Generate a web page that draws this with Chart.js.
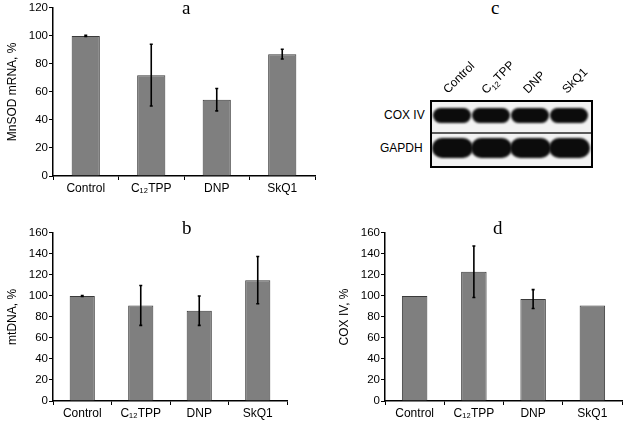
<!DOCTYPE html>
<html>
<head>
<meta charset="utf-8">
<script src="https://cdn.jsdelivr.net/npm/chart.js@4.4.1/dist/chart.umd.min.js"></script>
<style>
  body { margin: 0; background: #fff; width: 624px; height: 421px; position: relative; overflow: hidden; font-family: "Liberation Sans", Arial, sans-serif; }
  .box { position: absolute; }
  .letter { position: absolute; font-family: "Liberation Serif", "Times New Roman", serif; font-size: 19px; color: #000; }
  .lbl { position: absolute; font-size: 12px; color: #000; white-space: nowrap; }
  .rot { transform-origin: 0 100%; transform: rotate(-45deg); }
</style>
</head>
<body>
<div class="box" style="left:0;top:0;width:320px;height:195px"><canvas id="chartA"></canvas></div>
<div class="box" style="left:0;top:225px;width:292px;height:195px"><canvas id="chartB"></canvas></div>
<div class="box" style="left:332px;top:225px;width:292px;height:195px"><canvas id="chartD"></canvas></div>
<canvas id="blot" class="box" style="left:430px;top:100px" width="163" height="68"></canvas>

<div class="letter" style="left:182px;top:-3px">a</div>
<div class="letter" style="left:182px;top:217px">b</div>
<div class="letter" style="left:491px;top:-3px">c</div>
<div class="letter" style="left:493px;top:217px">d</div>

<div class="lbl" style="left:384px;top:108px">COX IV</div>
<div class="lbl" style="left:380px;top:141px">GAPDH</div>
<div class="lbl rot" style="left:450px;top:82px">Control</div>
<div class="lbl rot" style="left:490px;top:82px">C<sub style="font-size:8px">12</sub>TPP</div>
<div class="lbl rot" style="left:530px;top:82px">DNP</div>
<div class="lbl rot" style="left:569px;top:82px">SkQ1</div>

<script>
"use strict";

var categories = ['Control', 'C\u2081\u2082TPP', 'DNP', 'SkQ1'];

// a - MnSOD mRNA
var mnsodValues = [100, 72, 54.5, 87];
var mnsodErrors = [0.4, 22, 8, 3.5];
var mnsodTicks = [0, 20, 40, 60, 80, 100, 120];

// b - mtDNA
var mtdnaValues = [100, 91, 86, 115];
var mtdnaErrors = [0.4, 19, 14, 22.5];
var mtdnaTicks = [0, 20, 40, 60, 80, 100, 120, 140, 160];

// d - COX IV
var coxValues = [100, 123, 97, 91];
var coxErrors = [0, 24.5, 9, 0];
var coxTicks = [0, 20, 40, 60, 80, 100, 120, 140, 160];

var errorBars = {
  id: 'errorBars',
  afterDatasetsDraw: function (chart, args, opts) {
    var ctx = chart.ctx;
    var yScale = chart.scales.y;
    var meta = chart.getDatasetMeta(0);
    ctx.save();
    ctx.strokeStyle = '#000';
    ctx.lineWidth = 1.6;
    meta.data.forEach(function (bar, i) {
      var v = chart.data.datasets[0].data[i];
      var e = opts.errors[i];
      if (!e) return;
      var top = yScale.getPixelForValue(v + e);
      var bot = yScale.getPixelForValue(v - e);
      ctx.beginPath();
      ctx.moveTo(bar.x, top);
      ctx.lineTo(bar.x, bot);
      ctx.moveTo(bar.x - 1.5, top);
      ctx.lineTo(bar.x + 1.5, top);
      ctx.moveTo(bar.x - 1.5, bot);
      ctx.lineTo(bar.x + 1.5, bot);
      ctx.stroke();
    });
    ctx.restore();
  }
};

function makeBarChart(id, values, errors, ticks, yTitle, rightPad) {
  var ctx = document.getElementById(id).getContext('2d');
  return new Chart(ctx, {
    type: 'bar',
    data: {
      labels: categories,
      datasets: [{
        data: values,
        backgroundColor: '#7f7f7f',
        borderColor: '#3a3a3a',
        borderWidth: 1,
        barPercentage: 0.43,
        categoryPercentage: 1
      }]
    },
    options: {
      responsive: true,
      maintainAspectRatio: false,
      animation: false,
      layout: { padding: { top: 7, right: rightPad, left: 0, bottom: 0 } },
      plugins: {
        legend: { display: false },
        tooltip: { enabled: false },
        errorBars: { errors: errors }
      },
      scales: {
        x: {
          offset: true,
          grid: { display: true, offset: true, drawOnChartArea: false, drawTicks: true, tickLength: 4, color: '#000', lineWidth: 1 },
          border: { color: '#000', width: 1.5 },
          ticks: { color: '#000', font: { family: 'Liberation Sans', size: 12 }, padding: 1, maxRotation: 0 },
          afterFit: function (scale) { scale.height = 19; }
        },
        y: {
          min: ticks[0],
          max: ticks[ticks.length - 1],
          afterBuildTicks: function (scale) {
            scale.ticks = ticks.map(function (t) { return { value: t }; });
          },
          grid: { display: true, drawOnChartArea: false, drawTicks: true, tickLength: 4, color: '#000', lineWidth: 1 },
          border: { color: '#000', width: 1.5 },
          ticks: { color: '#000', font: { family: 'Liberation Sans', size: 11.5 }, padding: 1 },
          title: { display: true, text: yTitle, color: '#000', font: { family: 'Liberation Sans', size: 12 }, padding: { top: 5, bottom: 0 } },
          afterFit: function (scale) { scale.width = 53; }
        }
      }
    },
    plugins: [errorBars]
  });
}

makeBarChart('chartA', mnsodValues, mnsodErrors, mnsodTicks, 'MnSOD mRNA, %', 5);
makeBarChart('chartB', mtdnaValues, mtdnaErrors, mtdnaTicks, 'mtDNA, %', 5);
makeBarChart('chartD', coxValues, coxErrors, coxTicks, 'COX IV, %', 2);

// c - western blot picture
(function drawBlot() {
  var c = document.getElementById('blot');
  var g = c.getContext('2d');
  g.fillStyle = '#f2f2f2';
  g.fillRect(0, 0, c.width, c.height);
  var lanes = [3, 42, 81, 120];
  g.fillStyle = '#0c0c0c';
  g.filter = 'blur(1.2px)';
  lanes.forEach(function (x) {
    g.beginPath();
    g.roundRect(x, 8, 38, 15, 7.5);
    g.fill();
    g.beginPath();
    g.roundRect(x - 1, 38, 41, 20, 10);
    g.fill();
  });
  g.filter = 'none';
  g.fillStyle = '#5a5a5a';
  g.fillRect(0, 32, c.width, 2);
  g.strokeStyle = '#000';
  g.lineWidth = 2;
  g.strokeRect(1, 1, c.width - 2, c.height - 2);
})();
</script>
</body>
</html>
